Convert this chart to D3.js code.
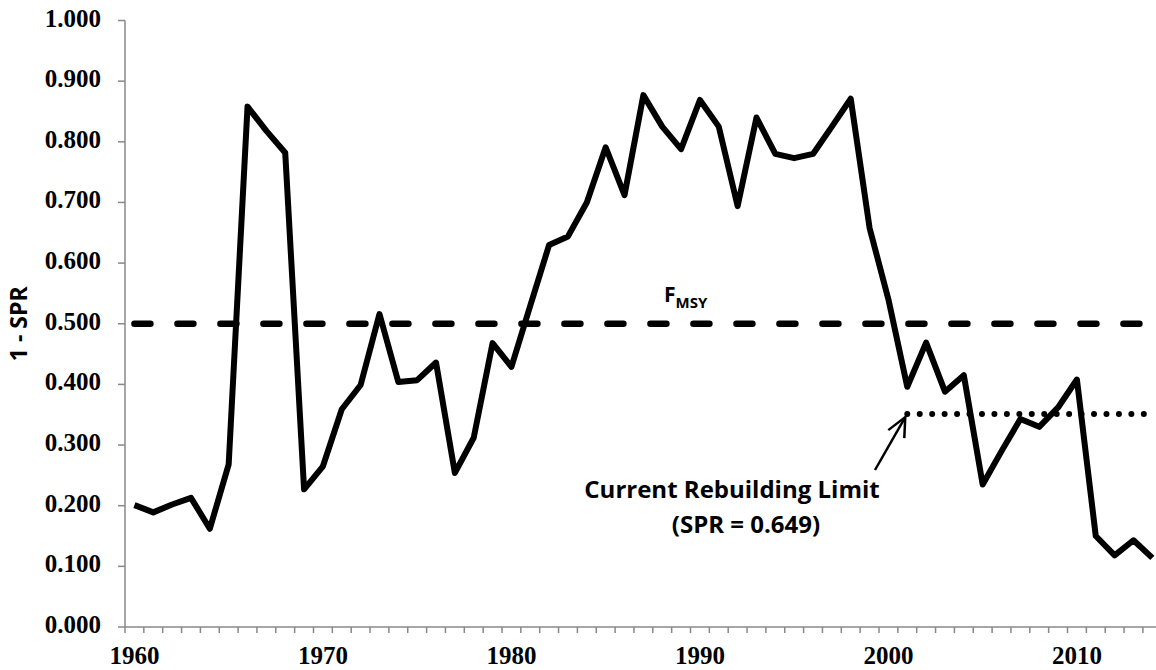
<!DOCTYPE html>
<html>
<head>
<meta charset="utf-8">
<script src="https://cdn.jsdelivr.net/npm/d3@7"></script>
<style>
  html, body { margin: 0; padding: 0; background: #fff; }
  svg { display: block; }
  .tick-label { font-family: "Liberation Serif", "Times New Roman", serif; font-weight: bold; font-size: 25px; fill: #000; }
  .note { font-family: "Open Sans", sans-serif; font-weight: bold; fill: #000; }
</style>
</head>
<body>
<svg width="1156" height="670"></svg>
<script>
// years 1960 - 2014
const years = d3.range(1960, 2015);

// 1 - SPR
const oneMinusSpr = [
  0.201, 0.189, 0.202, 0.213, 0.162, 0.268, 0.858, 0.818, 0.782, 0.227,
  0.265, 0.359, 0.399, 0.516, 0.404, 0.407, 0.436, 0.254, 0.312, 0.468,
  0.429, 0.530, 0.630, 0.644, 0.700, 0.791, 0.712, 0.877, 0.825, 0.788,
  0.869, 0.825, 0.694, 0.840, 0.780, 0.773, 0.780, 0.825, 0.871, 0.658,
  0.540, 0.396, 0.469, 0.388, 0.415, 0.235, 0.290, 0.343, 0.330, 0.362,
  0.408, 0.150, 0.118, 0.143, 0.114
];

const fmsy = 0.5;
const rebuildLimit = 1 - 0.649;
const rebuildStart = 2001;

const yTicks = d3.range(0, 1.0001, 0.1);
const xLabels = [1960, 1970, 1980, 1990, 2000, 2010];

function draw () {
  const svg = d3.select('svg');

  const left = 125, top = 20.5, bottom = 627, catW = 18.85;

  const x = d3.scaleBand()
    .domain(years)
    .range([left, left + years.length * catW])
    .padding(0);

  const cx = d => x(d) + x.bandwidth() / 2;

  const y = d3.scaleLinear().domain([0, 1]).range([bottom, top]);

  const axisColor = '#888';

  // Y axis
  const yAxis = svg.append('g');
  yAxis.append('line')
    .attr('x1', left).attr('x2', left)
    .attr('y1', y(1)).attr('y2', y(0))
    .attr('stroke', axisColor).attr('stroke-width', 1.5);

  yAxis.selectAll('.yt').data(yTicks).enter().append('line')
    .attr('x1', left - 7).attr('x2', left)
    .attr('y1', d => y(d)).attr('y2', d => y(d))
    .attr('stroke', axisColor).attr('stroke-width', 1.5);

  yAxis.selectAll('.yl').data(yTicks).enter().append('text')
    .attr('class', 'tick-label')
    .attr('x', left - 24)
    .attr('y', d => y(d) + 6)
    .attr('text-anchor', 'end')
    .text(d => d3.format('.3f')(d));

  // X axis
  const xAxis = svg.append('g');
  xAxis.append('line')
    .attr('x1', left).attr('x2', left + years.length * catW)
    .attr('y1', bottom).attr('y2', bottom)
    .attr('stroke', axisColor).attr('stroke-width', 1.5);

  const bounds = years.map(d => x(d)).concat([x.range()[1]]);
  xAxis.selectAll('.xt').data(bounds).enter().append('line')
    .attr('x1', d => d).attr('x2', d => d)
    .attr('y1', bottom).attr('y2', bottom + 6)
    .attr('stroke', axisColor).attr('stroke-width', 1.5);

  xAxis.selectAll('.xl').data(xLabels).enter().append('text')
    .attr('class', 'tick-label')
    .attr('x', d => cx(d))
    .attr('y', 664)
    .attr('text-anchor', 'middle')
    .text(d => d);

  // Y title
  svg.append('text')
    .attr('class', 'note')
    .attr('transform', `translate(27, ${y(0.5)}) rotate(-90)`)
    .attr('text-anchor', 'middle')
    .style('font-size', '23px')
    .text('1 - SPR');

  // F_MSY reference
  svg.append('line')
    .attr('x1', cx(years[0])).attr('x2', cx(years[years.length - 1]))
    .attr('y1', y(fmsy)).attr('y2', y(fmsy))
    .attr('stroke', '#000').attr('stroke-width', 6.5)
    .attr('stroke-linecap', 'round')
    .attr('stroke-dasharray', '16 27');

  const fl = svg.append('text')
    .attr('class', 'note')
    .attr('x', 664).attr('y', 302)
    .style('font-size', '21px');
  fl.append('tspan').text('F');
  fl.append('tspan').attr('dy', 6).style('font-size', '15px').text('MSY');

  // rebuilding limit
  svg.append('line')
    .attr('x1', cx(rebuildStart)).attr('x2', cx(years[years.length - 1]))
    .attr('y1', y(rebuildLimit)).attr('y2', y(rebuildLimit))
    .attr('stroke', '#000').attr('stroke-width', 6)
    .attr('stroke-linecap', 'round')
    .attr('stroke-dasharray', '0 12.45');

  // series
  const line = d3.line()
    .x((d, i) => cx(years[i]))
    .y(d => y(d));

  svg.append('path')
    .datum(oneMinusSpr)
    .attr('d', line)
    .attr('fill', 'none')
    .attr('stroke', '#000')
    .attr('stroke-width', 6)
    .attr('stroke-linejoin', 'round');

  // arrow
  const tipX = cx(rebuildStart) - 2, tipY = y(rebuildLimit) + 3;
  const ar = svg.append('g').attr('stroke', '#000').attr('stroke-width', 2.5).attr('fill', 'none');
  ar.append('line').attr('x1', 875).attr('y1', 470).attr('x2', tipX).attr('y2', tipY);
  ar.append('path').attr('d', `M${tipX - 17},${tipY + 13} L${tipX},${tipY} L${tipX - 1},${tipY + 21}`);

  svg.append('text')
    .attr('class', 'note')
    .attr('x', 732).attr('y', 498)
    .attr('text-anchor', 'middle')
    .style('font-size', '24px')
    .text('Current Rebuilding Limit');

  svg.append('text')
    .attr('class', 'note')
    .attr('x', 746).attr('y', 533)
    .attr('text-anchor', 'middle')
    .style('font-size', '24px')
    .text('(SPR = 0.649)');
}

document.addEventListener('DOMContentLoaded', draw);
</script>
</body>
</html>
